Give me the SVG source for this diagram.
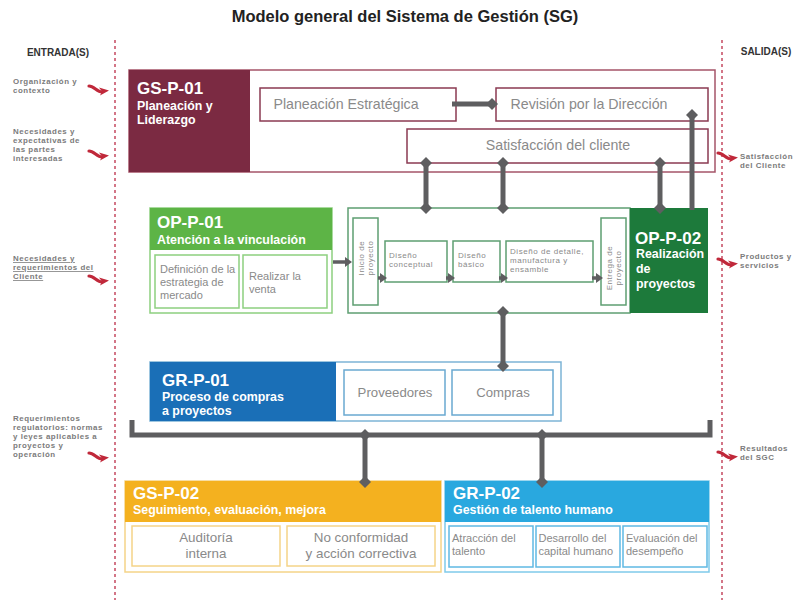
<svg xmlns="http://www.w3.org/2000/svg" width="799" height="600" viewBox="0 0 799 600">
  <style>
    text { font-family: "Liberation Sans", Arial, sans-serif; }
    .title { font-size: 16.5px; font-weight: bold; fill: #222; }
    .io { font-size: 10px; font-weight: bold; fill: #333; }
    .lbl { font-size: 7.9px; font-weight: bold; fill: #7b7b7b; letter-spacing: 0.55px; }
    .code { font-size: 17px; font-weight: bold; fill: #fff; }
    .sub { font-size: 12.4px; font-weight: bold; fill: #fff; }
    .in { fill: #8a8a8a; }
    .t13 { font-size: 14.2px; }
    .t12 { font-size: 13.4px; }
    .t13b { font-size: 13.2px; }
    .t10 { font-size: 11px; }
    .t9 { font-size: 8px; letter-spacing: 0.55px; }
    .sep { stroke: #c9546a; stroke-width: 1.6; stroke-dasharray: 3 3; fill: none; }
    .conn { stroke: #5e5e60; stroke-width: 5; fill: none; }
    .small { stroke: #5e5e60; stroke-width: 3.5; fill: none; }
    .dia { fill: #5e5e60; }
    .box { fill: #fff; }
  </style>
  <defs>
    <!-- red swoosh arrow used for inputs and outputs -->
    <g id="swoosh">
      <path d="M0,0 C5,0 8,6 13,6" stroke="#c0283a" stroke-width="3.2" fill="none" stroke-linecap="round"/>
      <path d="M10,1.5 L20,4.5 L11,9.5 L13,5.5 Z" fill="#c0283a"/>
    </g>
    <!-- diamond end cap on gray connectors -->
    <path id="dm" d="M0,-6 L6,0 L0,6 L-6,0 Z" class="dia"/>
    <!-- small process arrowhead -->
    <path id="ah" d="M-5,-5 L2,0 L-5,5 Z" class="dia"/>
  </defs>

  <rect width="799" height="600" fill="#fff"/>

  <!-- heading -->
  <text x="405" y="22" text-anchor="middle" class="title">Modelo general del Sistema de Gestión (SG)</text>
  <text x="58" y="56" text-anchor="middle" class="io">ENTRADA(S)</text>
  <text x="766" y="55" text-anchor="middle" class="io">SALIDA(S)</text>

  <!-- boundary lines -->
  <line x1="115" y1="40" x2="115" y2="600" class="sep"/>
  <line x1="722" y1="40" x2="722" y2="600" class="sep"/>

  <!-- inputs -->
  <g id="inputs">
    <text class="lbl"><tspan x="13" y="84">Organización y</tspan><tspan x="13" y="93">contexto</tspan></text>
    <use href="#swoosh" x="89" y="86"/>
    <text class="lbl"><tspan x="13" y="134">Necesidades y</tspan><tspan x="13" y="143">expectativas de</tspan><tspan x="13" y="152">las partes</tspan><tspan x="13" y="161">interesadas</tspan></text>
    <use href="#swoosh" x="89" y="151"/>
    <text class="lbl" text-decoration="underline"><tspan x="13" y="261">Necesidades y</tspan><tspan x="13" y="270">requerimientos del</tspan><tspan x="13" y="279">Cliente</tspan></text>
    <use href="#swoosh" x="89" y="276"/>
    <text class="lbl"><tspan x="13" y="421">Requerimientos</tspan><tspan x="13" y="430">regulatorios: normas</tspan><tspan x="13" y="439">y leyes aplicables a</tspan><tspan x="13" y="448">proyectos y</tspan><tspan x="13" y="457">operación</tspan></text>
    <use href="#swoosh" x="89" y="453"/>
  </g>

  <!-- outputs -->
  <g id="outputs">
    <use href="#swoosh" x="718" y="153"/>
    <text class="lbl"><tspan x="740" y="159">Satisfacción</tspan><tspan x="740" y="168">del Cliente</tspan></text>
    <use href="#swoosh" x="718" y="259"/>
    <text class="lbl"><tspan x="740" y="259">Productos y</tspan><tspan x="740" y="268">servicios</tspan></text>
    <use href="#swoosh" x="718" y="452"/>
    <text class="lbl"><tspan x="740" y="451">Resultados</tspan><tspan x="740" y="460">del SGC</tspan></text>
  </g>

  <!-- GS-P-01 Planeación y Liderazgo -->
  <g id="gs-p-01">
    <rect x="129" y="70" width="586" height="102" fill="#fff" stroke="#a55468" stroke-width="1.5"/>
    <rect x="129" y="70" width="121" height="102" fill="#7b2a42"/>
    <text x="137" y="94" class="code">GS-P-01</text>
    <text class="sub"><tspan x="137" y="110">Planeación y</tspan><tspan x="137" y="124">Liderazgo</tspan></text>
    <rect x="260" y="88" width="196" height="33" class="box" stroke="#8b3a52" stroke-width="1.5"/>
    <text x="346" y="109" text-anchor="middle" class="in t13">Planeación Estratégica</text>
    <rect x="496" y="88" width="212" height="33" class="box" stroke="#8b3a52" stroke-width="1.5"/>
    <text x="589" y="109" text-anchor="middle" class="in t13">Revisión por la  Dirección</text>
    <rect x="407" y="129" width="301" height="34" class="box" stroke="#8b3a52" stroke-width="1.5"/>
    <text x="558" y="150" text-anchor="middle" class="in t13">Satisfacción del cliente</text>
  </g>

  <!-- OP-P-01 Atención a la vinculación -->
  <g id="op-p-01">
    <rect x="150" y="208" width="182" height="105" fill="#fff" stroke="#8dcf7f" stroke-width="1.5"/>
    <rect x="150" y="208" width="182" height="42" fill="#5db446"/>
    <text x="157" y="228" class="code">OP-P-01</text>
    <text x="157" y="244" class="sub">Atención a la vinculación</text>
    <rect x="155" y="255" width="84" height="53" class="box" stroke="#8dcf7f" stroke-width="1.5"/>
    <text class="in t10"><tspan x="160" y="273">Definición de la</tspan><tspan x="160" y="286">estrategia de</tspan><tspan x="160" y="299">mercado</tspan></text>
    <rect x="243" y="255" width="84" height="53" class="box" stroke="#8dcf7f" stroke-width="1.5"/>
    <text class="in t10"><tspan x="249" y="280">Realizar la</tspan><tspan x="249" y="293">venta</tspan></text>
  </g>

  <!-- project stages -->
  <g id="project-stages">
    <rect x="348" y="208" width="282" height="105" fill="#fff" stroke="#5e9e72" stroke-width="1.5"/>
    <rect x="353" y="218" width="25" height="87" class="box" stroke="#5e9e72" stroke-width="1.5"/>
    <text transform="translate(365.5,258) rotate(-90)" text-anchor="middle" class="in t9"><tspan x="0" y="-1.5">Inicio de</tspan><tspan x="0" y="7.5">proyecto</tspan></text>
    <rect x="385" y="241" width="62" height="41" class="box" stroke="#5e9e72" stroke-width="1.5"/>
    <text class="in t9"><tspan x="389" y="258">Diseño</tspan><tspan x="389" y="267">conceptual</tspan></text>
    <rect x="453" y="241" width="47" height="41" class="box" stroke="#5e9e72" stroke-width="1.5"/>
    <text class="in t9"><tspan x="458" y="258">Diseño</tspan><tspan x="458" y="267">básico</tspan></text>
    <rect x="506" y="241" width="87" height="41" class="box" stroke="#5e9e72" stroke-width="1.5"/>
    <text class="in t9"><tspan x="510" y="254">Diseño de detalle,</tspan><tspan x="510" y="263">manufactura y</tspan><tspan x="510" y="272">ensamble</tspan></text>
    <rect x="601" y="218" width="25" height="87" class="box" stroke="#5e9e72" stroke-width="1.5"/>
    <text transform="translate(613.5,268) rotate(-90)" text-anchor="middle" class="in t9"><tspan x="0" y="-1.5">Entrega de</tspan><tspan x="0" y="7.5">proyecto</tspan></text>
  </g>

  <!-- OP-P-02 Realización de proyectos -->
  <g id="op-p-02">
    <rect x="630" y="208" width="78" height="105" fill="#1d7a3b"/>
    <text x="635" y="244" class="code">OP-P-02</text>
    <text class="sub"><tspan x="636" y="258">Realización</tspan><tspan x="636" y="273">de</tspan><tspan x="636" y="288">proyectos</tspan></text>
  </g>

  <!-- GR-P-01 Proceso de compras a proyectos -->
  <g id="gr-p-01">
    <rect x="150" y="362" width="411" height="59" fill="#fff" stroke="#7db4d6" stroke-width="1.5"/>
    <rect x="150" y="362" width="186" height="59" fill="#1a6fb7"/>
    <text x="162" y="386" class="code">GR-P-01</text>
    <text class="sub"><tspan x="162" y="401">Proceso de compras</tspan><tspan x="162" y="415">a proyectos</tspan></text>
    <rect x="344" y="370" width="101" height="45" class="box" stroke="#6aa9d1" stroke-width="1.5"/>
    <text x="395" y="397" text-anchor="middle" class="in t13b">Proveedores</text>
    <rect x="452" y="370" width="101" height="45" class="box" stroke="#6aa9d1" stroke-width="1.5"/>
    <text x="503" y="397" text-anchor="middle" class="in t13b">Compras</text>
  </g>

  <!-- GS-P-02 Seguimiento, evaluación, mejora -->
  <g id="gs-p-02">
    <rect x="125" y="481" width="316" height="91" fill="#fff" stroke="#f5d488" stroke-width="1.5"/>
    <rect x="125" y="481" width="316" height="41" fill="#f4b11f"/>
    <text x="133" y="499" class="code">GS-P-02</text>
    <text x="133" y="514" class="sub">Seguimiento, evaluación, mejora</text>
    <rect x="132" y="526" width="148" height="40" class="box" stroke="#f5d488" stroke-width="1.5"/>
    <text text-anchor="middle" class="in t12"><tspan x="206" y="542">Auditoría</tspan><tspan x="206" y="558">interna</tspan></text>
    <rect x="287" y="526" width="148" height="40" class="box" stroke="#f5d488" stroke-width="1.5"/>
    <text text-anchor="middle" class="in t12"><tspan x="361" y="542">No conformidad</tspan><tspan x="361" y="558">y acción correctiva</tspan></text>
  </g>

  <!-- GR-P-02 Gestión de talento humano -->
  <g id="gr-p-02">
    <rect x="445" y="481" width="264" height="91" fill="#fff" stroke="#7fcaea" stroke-width="1.5"/>
    <rect x="445" y="481" width="264" height="41" fill="#29a8df"/>
    <text x="453" y="499" class="code">GR-P-02</text>
    <text x="453" y="514" class="sub">Gestión de talento humano</text>
    <rect x="449" y="526" width="84" height="41" class="box" stroke="#5fb9e3" stroke-width="1.5"/>
    <text class="in t10"><tspan x="452" y="542">Atracción del</tspan><tspan x="452" y="555">talento</tspan></text>
    <rect x="536" y="526" width="84" height="41" class="box" stroke="#5fb9e3" stroke-width="1.5"/>
    <text class="in t10"><tspan x="538.5" y="542">Desarrollo del</tspan><tspan x="538.5" y="555">capital humano</tspan></text>
    <rect x="623" y="526" width="84" height="41" class="box" stroke="#5fb9e3" stroke-width="1.5"/>
    <text class="in t10"><tspan x="626" y="542">Evaluación del</tspan><tspan x="626" y="555">desempeño</tspan></text>
  </g>

  <!-- connectors -->
  <g id="connectors">
    <!-- Planeación Estratégica to Revisión por la Dirección -->
    <line x1="452" y1="104" x2="490" y2="104" class="conn"/>
    <use href="#dm" x="492" y="104"/>
    <!-- Satisfacción del cliente to the project process -->
    <line x1="426" y1="163" x2="426" y2="208" class="conn"/>
    <use href="#dm" x="426" y="163"/><use href="#dm" x="426" y="208"/>
    <line x1="503" y1="163" x2="503" y2="208" class="conn"/>
    <use href="#dm" x="503" y="163"/><use href="#dm" x="503" y="208"/>
    <line x1="660" y1="163" x2="660" y2="208" class="conn"/>
    <use href="#dm" x="660" y="163"/><use href="#dm" x="660" y="208"/>
    <!-- OP-P-02 to Revisión por la Dirección -->
    <line x1="692" y1="115" x2="692" y2="210" class="conn"/>
    <use href="#dm" x="692" y="115"/>
    <!-- OP-P-01 into the stages and between stages -->
    <line x1="333" y1="262" x2="346" y2="262" class="small"/>
    <use href="#ah" x="350" y="262"/>
    <line x1="378" y1="278" x2="381" y2="278" class="small"/>
    <use href="#ah" x="385" y="278"/>
    <line x1="446" y1="278" x2="449" y2="278" class="small"/>
    <use href="#ah" x="453" y="278"/>
    <line x1="499" y1="278" x2="502" y2="278" class="small"/>
    <use href="#ah" x="506" y="278"/>
    <line x1="592" y1="278" x2="597" y2="278" class="small"/>
    <use href="#ah" x="601" y="278"/>
    <!-- stages to Compras -->
    <line x1="503" y1="313" x2="503" y2="366" class="conn"/>
    <use href="#dm" x="503" y="312"/><use href="#dm" x="503" y="366"/>
    <!-- support bracket -->
    <path d="M132,420 L132,435 L710,435 L710,420" class="conn" stroke-width="4"/>
    <line x1="365" y1="435" x2="365" y2="482" class="conn"/>
    <use href="#dm" x="365" y="435"/><use href="#dm" x="365" y="482"/>
    <line x1="542" y1="435" x2="542" y2="482" class="conn"/>
    <use href="#dm" x="542" y="435"/><use href="#dm" x="542" y="482"/>
  </g>
</svg>
